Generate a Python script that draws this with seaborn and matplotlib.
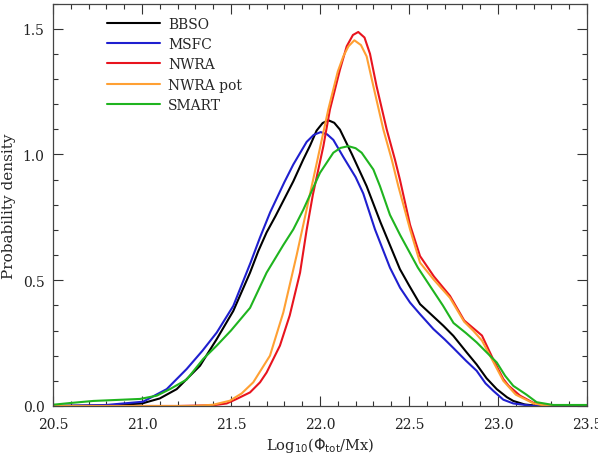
import numpy as np
import pandas as pd
import matplotlib
matplotlib.use("Agg")
import matplotlib.pyplot as plt
import seaborn as sns
from matplotlib.ticker import MultipleLocator

# curves (log10 flux, probability density)
bbso_x = [20.5, 20.8, 21.0, 21.1, 21.195, 21.326, 21.42, 21.513, 21.607, 21.653, 21.70, 21.75,
          21.85, 21.906, 21.944, 21.981, 22.015, 22.047, 22.08, 22.112, 22.18, 22.262, 22.34,
          22.449, 22.50, 22.562, 22.693, 22.749, 22.824, 22.88, 22.936, 22.993, 23.05, 23.086,
          23.15, 23.23, 23.5]
bbso_y = [0.0, 0.002, 0.01, 0.03, 0.067, 0.16, 0.266, 0.378, 0.53, 0.615, 0.69, 0.755,
          0.893, 0.98, 1.035, 1.095, 1.125, 1.136, 1.126, 1.099, 1.0, 0.874, 0.73,
          0.544, 0.48, 0.405, 0.319, 0.279, 0.213, 0.165, 0.11, 0.067, 0.035, 0.02,
          0.006, 0.0, 0.0]

msfc_x = [20.5, 20.8, 21.006, 21.139, 21.251, 21.34, 21.42, 21.513, 21.61, 21.663, 21.72, 21.80,
          21.85, 21.925, 21.965, 22.004, 22.04, 22.075, 22.131, 22.2, 22.243, 22.309, 22.393,
          22.45, 22.506, 22.562, 22.637, 22.70, 22.75, 22.82, 22.88, 22.93, 22.974, 23.03,
          23.086, 23.2, 23.5]
msfc_y = [0.0, 0.004, 0.017, 0.067, 0.147, 0.22, 0.292, 0.398, 0.57, 0.67, 0.77, 0.89,
          0.96, 1.05, 1.078, 1.089, 1.08, 1.058, 0.99, 0.91, 0.845, 0.702, 0.55,
          0.47, 0.411, 0.365, 0.306, 0.265, 0.23, 0.18, 0.14, 0.09, 0.06, 0.025,
          0.01, 0.0, 0.0]

nwra_x = [20.5, 21.2, 21.4, 21.476, 21.532, 21.607, 21.663, 21.70, 21.775, 21.83, 21.888, 21.925,
          21.96, 22.019, 22.056, 22.112, 22.15, 22.185, 22.215, 22.25, 22.281, 22.318, 22.375,
          22.421, 22.449, 22.506, 22.562, 22.64, 22.73, 22.81, 22.86, 22.91, 22.97, 23.03,
          23.06, 23.124, 23.2, 23.27, 23.5]
nwra_y = [0.0, 0.0, 0.003, 0.01, 0.028, 0.054, 0.094, 0.133, 0.24, 0.36, 0.53, 0.70,
          0.84, 1.033, 1.179, 1.337, 1.43, 1.475, 1.487, 1.465, 1.40, 1.271, 1.099,
          0.98, 0.9, 0.72, 0.596, 0.515, 0.438, 0.34, 0.31, 0.28, 0.19, 0.107,
          0.08, 0.041, 0.012, 0.001, 0.0]

pot_x = [20.5, 21.3, 21.4, 21.494, 21.56, 21.625, 21.719, 21.794, 21.869, 21.906, 21.98, 22.047,
         22.10, 22.131, 22.16, 22.193, 22.23, 22.262, 22.30, 22.356, 22.403, 22.44, 22.506,
         22.562, 22.637, 22.73, 22.81, 22.86, 22.91, 22.974, 23.03, 23.1, 23.2, 23.28, 23.5]
pot_y = [0.0, 0.0, 0.005, 0.021, 0.05, 0.094, 0.2, 0.372, 0.6, 0.72, 0.96, 1.18,
         1.33, 1.39, 1.43, 1.454, 1.435, 1.39, 1.271, 1.099, 0.98, 0.874, 0.702,
         0.57, 0.504, 0.43, 0.335, 0.3, 0.26, 0.175, 0.1, 0.045, 0.01, 0.0, 0.0]

smart_x = [20.5, 20.6, 20.726, 20.989, 21.083, 21.157, 21.251, 21.344, 21.42, 21.50, 21.607, 21.70,
           21.794, 21.85, 21.906, 22.0, 22.075, 22.115, 22.159, 22.2, 22.234, 22.30, 22.337,
           22.393, 22.45, 22.487, 22.55, 22.618, 22.69, 22.75, 22.82, 22.88, 22.993, 23.04,
           23.086, 23.16, 23.217, 23.31, 23.5]
smart_y = [0.005, 0.012, 0.02, 0.028, 0.041, 0.067, 0.105, 0.187, 0.24, 0.30, 0.39, 0.53,
           0.64, 0.702, 0.78, 0.927, 1.007, 1.026, 1.033, 1.025, 1.007, 0.94, 0.874,
           0.76, 0.68, 0.632, 0.55, 0.477, 0.40, 0.33, 0.29, 0.253, 0.173, 0.12,
           0.08, 0.045, 0.015, 0.004, 0.004]

labels = ["BBSO", "MSFC", "NWRA", "NWRA pot", "SMART"]
colors = ["black", "#1f1fcf", "#e8141e", "#ffa033", "#1fb41f"]

series = [(bbso_x, bbso_y), (msfc_x, msfc_y), (nwra_x, nwra_y), (pot_x, pot_y), (smart_x, smart_y)]
frames = []
for name, (xs, ys) in zip(labels, series):
    frames.append(pd.DataFrame({"x": xs, "y": ys, "source": name}))
df = pd.concat(frames, ignore_index=True)

sns.set_style("ticks", {"xtick.direction": "in", "ytick.direction": "in"})
plt.rcParams["font.family"] = ["DejaVu Serif"]

fig = plt.figure(figsize=(5.98, 4.56), dpi=100)
ax = fig.add_axes([0.0886, 0.1075, 0.893, 0.8825])

sns.lineplot(data=df, x="x", y="y", hue="source", hue_order=labels,
             palette=dict(zip(labels, colors)), estimator=None, sort=False,
             linewidth=1.5, ax=ax)

ax.set_xlim(20.5, 23.5)
ax.set_ylim(0, 1.6)
ax.xaxis.set_major_locator(MultipleLocator(0.5))
ax.xaxis.set_minor_locator(MultipleLocator(0.1))
ax.yaxis.set_major_locator(MultipleLocator(0.5))
ax.yaxis.set_minor_locator(MultipleLocator(0.1))
ax.xaxis.set_major_formatter(plt.FuncFormatter(lambda v, p: f"{v:.1f}"))
ax.yaxis.set_major_formatter(plt.FuncFormatter(lambda v, p: f"{v:.1f}"))
ax.tick_params(which="both", direction="in", top=True, right=True, colors="#333333",
               labelsize=10, labelcolor="#222222")
ax.tick_params(which="major", length=7, width=0.8)
ax.tick_params(axis="x", which="major", pad=8)
ax.tick_params(axis="y", which="major", pad=6)
ax.tick_params(which="minor", length=3.5, width=0.8)
for sp in ax.spines.values():
    sp.set_color("#444444")
    sp.set_linewidth(0.9)

ax.set_xlabel(r"Log$_{10}$($\Phi_{\rm tot}$/Mx)", fontsize=10.5, labelpad=3)
ax.set_ylabel("Probability density", fontsize=11)
ax.yaxis.set_label_coords(-0.07, 0.5)

handles, _ = ax.get_legend_handles_labels()
ax.legend(handles=handles[-5:], labels=labels, loc="upper left",
          bbox_to_anchor=(0.101, 0.967), frameon=False, fontsize=10,
          handlelength=3.8, handletextpad=0.6, labelspacing=0.45,
          borderpad=0, borderaxespad=0)

fig.savefig("out.png", dpi=100)
